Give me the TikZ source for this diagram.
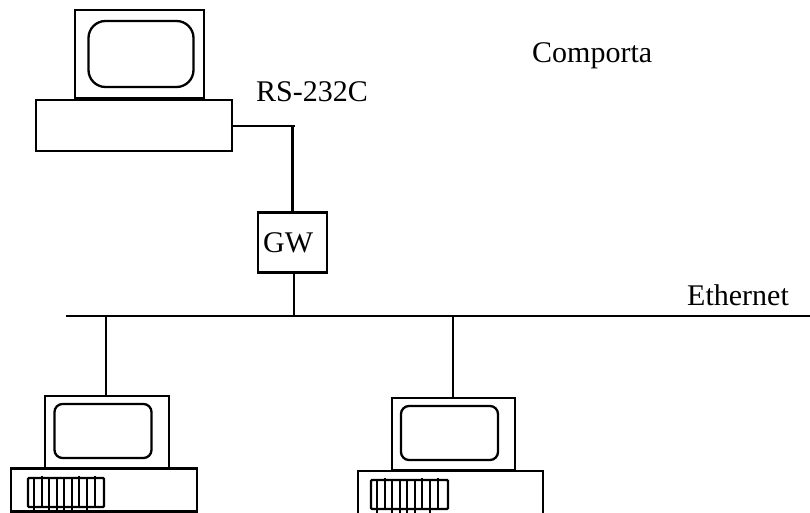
\documentclass[tikz,border=0pt]{standalone}
\usepackage{fontspec}
\setmainfont{Liberation Serif}
\tikzset{
	wire/.style = {line width=2.3pt},
	barline/.style = {line width=2pt},
	boxnode/.style = {draw, line width=2.3pt, inner sep=0pt, outer sep=0pt},
	screennode/.style = {boxnode, rounded corners=#1},
	labelnode/.style = {inner sep=0pt, font=\fontsize{30}{30}\selectfont}
}
\begin{document}
\begin{tikzpicture}[x=1pt,y=-1pt]
	\useasboundingbox (0,0) rectangle (810,513);
	% top terminal
	\node [boxnode, minimum width=129, minimum height=88] (monitorA) at (139.5,54) {};
	\node [screennode=17pt, minimum width=105, minimum height=66] (screenA) at (141,54) {};
	\node [boxnode, minimum width=196, minimum height=51] (baseA) at (134,125.5) {};
	% gateway
	\node [boxnode, minimum width=69, minimum height=60] (gw) at (292.5,242.5) {};
	\node [labelnode, anchor=base west] (gwtext) at (263,252) {GW};
	% ethernet
	\coordinate (busL) at (66,316);
	\coordinate (busR) at (810,316);
	\coordinate (tapGW) at (294,316);
	\coordinate (tapB) at (106,316);
	\coordinate (tapC) at (453,316);
	\coordinate (corner) at (292.5,126);
	\coordinate (cornerEnd) at (295,126);
	\draw [wire] (busL) -- (busR);
	\draw [wire] (baseA.east |- cornerEnd) -- (cornerEnd);
	\draw [wire] (corner) -- (gw.north -| corner);
	\draw [wire] (gw.south -| tapGW) -- (tapGW);
	% lower left terminal
	\node [boxnode, minimum width=124, minimum height=73] (monitorB) at (107,432.5) {};
	\node [screennode=8pt, minimum width=97, minimum height=54] (screenB) at (103,431) {};
	\node [boxnode, minimum width=186, minimum height=43] (baseB) at (104,490) {};
	\node [screennode=1pt, minimum width=76, minimum height=29] (keysB) at (66,492.5) {};
	% lower right terminal
	\node [boxnode, minimum width=123, minimum height=72] (monitorC) at (453.5,434) {};
	\node [screennode=8pt, minimum width=97, minimum height=54] (screenC) at (449.5,433) {};
	\node [boxnode, minimum width=185, minimum height=44] (baseC) at (450.5,493) {};
	\node [screennode=1pt, minimum width=77, minimum height=29] (keysC) at (409.5,494.5) {};
	\draw [wire] (tapB) -- (tapB |- monitorB.north);
	\draw [wire] (tapC) -- (tapC |- monitorC.north);
	% keys
	\foreach \x in {6,21,28.5,36,43.5,58.5} {
		\draw [barline] ([xshift=\x pt]keysB.north west) -- ++(0,32.5);
		\draw [barline] ([xshift=\x pt]keysC.north west) -- ++(0,32.5);
	}
	\foreach \x in {13.5,51,66.5} {
		\draw [barline] ([xshift=\x pt,yshift=2.5pt]keysB.north west) -- ++(0,31.5);
		\draw [barline] ([xshift=\x pt,yshift=2.5pt]keysC.north west) -- ++(0,31.5);
	}
	% labels
	\node [labelnode, anchor=base west] (comporta) at (532,62.5) {Comporta};
	\node [labelnode, anchor=base west] (rs) at (256,102) {RS-232C};
	\node [labelnode, anchor=base west] (ethernet) at (687,305) {Ethernet};
\end{tikzpicture}
\end{document}
